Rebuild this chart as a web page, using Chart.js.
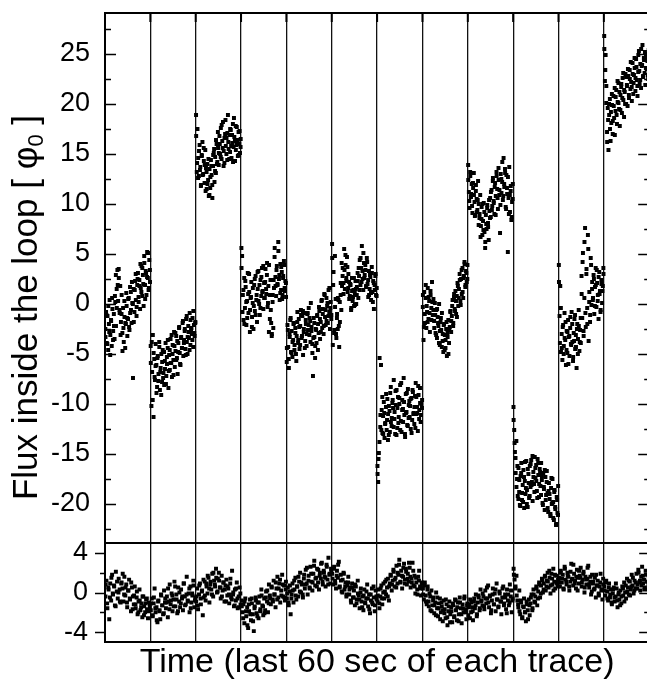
<!DOCTYPE html>
<html>
<head>
<meta charset="utf-8">
<script src="https://cdn.jsdelivr.net/npm/chart.js@4"></script>
<style>
  html, body { margin: 0; padding: 0; background: #fff; overflow: hidden; }
  #wrap { width: 652px; height: 681px; }
</style>
</head>
<body>
<div id="wrap"><canvas id="fluxChart" width="652" height="681"></canvas></div>
<script>
// 12 traces, last 60 s of each one, flux in units of phi_0
var traceCount = 12;

var fluxTicks = [-20, -15, -10, -5, 0, 5, 10, 15, 20, 25];
var fluxMinorTicks = [-22.5, -17.5, -12.5, -7.5, -2.5, 2.5, 7.5, 12.5, 17.5, 22.5, 27.5];
var residTicks = [-4, 0, 4];
var residMinorTicks = [-2, 2];

// upper panel: flux inside the loop, one array per trace
var fluxTraces = [
  [-2.5, -0.8, -3.9, -1.2, -4.6, -2.0, 0.4, -3.1, -1.6, -4.2, -0.5, -2.7, -1.0, -3.5, 0.2, -2.2,
   1.5, 3.4, 0.3, 2.6, -0.6, 1.8, -1.8, 0.9, -2.9, -0.4, -3.8, -1.3, -4.4, -2.0, -0.2, -3.2,
   -1.5, 0.6, -2.6, -0.9, 1.2, -1.9, 0.1, -7.4, 1.5, -0.8, 2.3, 0.4, -1.2, 1.9, 3.1, 0.2,
   2.4, -0.5, 1.6, 3.8, 0.8, 2.9, -0.2, 4.1, 1.9, 3.3, 0.9, 5.2, 2.6, 1.4, 4.4, 2.2],
  [-4.2, -10.2, -6.8, -3.1, -11.3, -5.5, -7.6, -4.0, -6.1, -8.3, -5.2, -7.0, -3.8, -8.6, -6.4, -5.0,
   -7.8, -4.6, -6.9, -8.1, -5.7, -3.9, -7.2, -6.0, -4.4, -8.4, -5.1, -6.6, -3.5, -5.9, -7.3, -4.1,
   -5.6, -2.8, -6.3, -4.7, -3.2, -5.4, -7.0, -3.9, -2.4, -4.9, -6.1, -3.3, -4.4, -1.9, -5.2, -3.6,
   -2.7, -4.5, -1.5, -3.8, -5.0, -2.2, -3.4, -0.9, -4.1, -2.6, -3.0, -1.4, -4.3, -2.1, -3.2, -1.8],
  [18.9, 13.2, 17.5, 14.6, 12.8, 15.9, 13.7, 11.9, 14.9, 16.2, 13.0, 14.3, 12.1, 15.4, 13.6, 11.5,
   14.0, 12.4, 10.8, 13.5, 11.6, 14.4, 12.9, 10.6, 13.8, 15.1, 12.2, 14.7, 13.1, 16.0, 14.2, 15.6,
   13.9, 16.8, 15.0, 17.6, 14.5, 16.3, 18.2, 15.3, 14.1, 17.0, 15.8, 16.6, 14.4, 18.9, 15.5, 16.9,
   15.2, 17.4, 14.6, 16.1, 18.0, 15.7, 16.7, 14.3, 17.8, 15.9, 16.4, 14.8, 17.2, 16.0, 15.1, 16.5],
  [5.6, 4.8, 0.9, -1.6, 2.6, -0.4, 1.7, -2.1, 0.3, 3.1, -0.9, 1.2, -2.8, 0.6, 2.2, -1.3,
   0.1, -2.5, 1.9, -0.7, 2.8, 0.4, -1.8, 1.5, 3.3, 0.0, -1.1, 2.4, 0.8, 3.6, 1.3, -0.5,
   2.1, 0.6, 3.5, 1.0, 2.9, -0.3, 1.8, 3.9, 0.9, 2.4, -1.9, -3.0, 0.2, -2.4, 1.6, 5.6,
   2.7, 0.8, 3.8, 1.9, 6.2, 2.5, 0.4, 4.0, 1.4, 3.2, 0.9, 2.8, 4.3, 1.6, 2.3, 0.7],
  [-5.8, -2.1, -4.3, -6.4, -3.0, -1.6, -4.8, -2.7, -5.3, -3.6, -1.9, -4.1, -2.4, -5.0, -3.2, -0.8,
   -3.9, -1.5, -4.5, -2.2, -0.6, -3.4, -1.2, -5.1, -2.8, -0.9, -3.7, -2.0, -4.2, -1.0, -2.6, -0.4,
   -3.1, -1.7, 0.1, -2.3, -4.0, -7.2, -1.4, -3.3, -5.4, -2.5, -3.9, -1.1, -4.6, -2.9, -0.7, -3.5,
   -1.8, 0.3, -2.4, -0.5, -3.0, 1.0, -1.3, -2.1, 0.6, -0.2, -1.9, 1.4, -0.8, -2.5, 0.2, -1.1],
  [6.0, -4.1, 3.2, -2.6, 4.8, 0.5, -3.4, -1.0, -2.5, 0.4, -4.3, -1.8, 0.9, -0.6, 1.8, 3.6,
   2.1, 5.5, 1.5, 3.9, 2.6, 4.7, 1.2, 3.0, 2.2, 0.8, 1.9, -0.4, 2.6, 0.3, 1.4, -0.2,
   1.1, 2.3, 0.0, 1.7, 3.1, 0.6, 2.8, 4.4, 1.9, 3.6, 5.8, 2.5, 1.4, 4.1, 2.9, 3.4,
   1.8, 4.6, 2.0, 0.7, 3.3, 1.5, 2.7, 0.4, 3.7, 1.2, 2.3, -0.5, 1.9, 2.8, 0.9, 1.6],
  [-16.2, -17.8, -14.9, -5.4, -12.3, -6.1, -10.6, -12.9, -11.2, -9.8, -13.4, -11.9, -10.3, -12.6, -9.5, -11.0,
   -13.1, -10.7, -8.9, -11.8, -12.2, -9.9, -10.4, -7.6, -11.5, -13.0, -10.1, -8.6, -12.4, -9.3, -11.3, -10.0,
   -8.1, -11.7, -12.8, -9.6, -10.5, -7.4, -11.1, -13.3, -9.0, -10.8, -12.1, -8.5, -11.4, -9.7, -10.2, -12.5,
   -9.4, -11.6, -8.8, -10.9, -12.0, -9.2, -7.9, -11.0, -10.3, -12.7, -9.1, -10.6, -8.4, -11.8, -10.0, -9.6],
  [-0.3, -3.6, 1.2, -1.9, 0.6, -2.4, -0.8, 1.6, -1.5, 0.3, -2.8, 0.9, -0.4, 2.2, -1.1, 0.5,
   -1.7, 0.1, -2.9, -0.6, -3.4, -1.3, -2.2, 0.0, -4.1, -1.8, -2.6, -0.9, -3.7, -4.8, -2.0, -3.1,
   -4.4, -2.5, -5.2, -3.3, -1.6, -3.9, -2.3, -0.7, -2.8, -1.2, 0.4, -1.9, 0.7, -0.5, 1.3, -1.0,
   0.8, 2.1, -0.2, 1.5, 3.0, 0.3, 2.5, 1.0, 3.6, 0.6, 2.8, 4.0, 1.7, 3.3, 2.2, 3.9],
  [13.9, 11.2, 9.6, 12.8, 10.7, 12.0, 9.1, 11.6, 13.1, 10.2, 8.9, 11.9, 10.5, 9.4, 12.3, 10.0,
   8.6, 10.9, 7.8, 9.7, 6.9, 8.3, 10.1, 7.2, 5.6, 8.9, 7.5, 9.9, 8.1, 6.4, 9.3, 10.6,
   8.7, 11.4, 9.8, 12.6, 10.3, 9.0, 12.1, 10.8, 13.2, 11.5, 9.5, 12.4, 10.9, 7.1, 13.0, 11.1,
   12.2, 10.4, 14.6, 11.7, 13.5, 9.7, 12.9, 11.0, 5.2, 10.6, 13.7, 9.2, 11.3, 8.4, 10.2, 12.0],
  [-10.3, -12.6, -14.8, -16.9, -13.7, -17.5, -19.2, -16.4, -18.8, -20.1, -17.2, -15.9, -19.6, -18.1, -16.6, -20.4,
   -17.7, -19.0, -15.7, -18.6, -20.3, -17.0, -19.4, -16.2, -18.3, -15.6, -17.8, -19.7, -16.8, -18.0, -15.3, -17.4,
   -16.1, -18.7, -15.5, -17.1, -19.3, -16.5, -18.2, -15.9, -17.6, -19.9, -16.9, -18.5, -20.6, -17.3, -19.1, -16.7,
   -18.9, -20.8, -17.9, -19.5, -21.2, -18.4, -20.0, -17.5, -19.8, -21.6, -18.6, -20.5, -22.1, -19.3, -20.9, -18.2],
  [3.9, -1.2, 1.8, -4.8, -3.0, -5.6, -2.1, -4.2, -0.9, -3.6, -6.1, -2.7, -4.9, -1.6, -3.3, -5.2,
   -2.4, -4.0, -0.8, -3.8, -5.7, -2.9, -1.5, -4.5, -3.1, -6.4, -2.0, -3.5, -0.6, -4.7, -2.6, -3.9,
   2.8, -1.4, 5.1, -3.2, 0.6, 7.6, -2.3, 3.5, -0.4, 6.9, -3.7, 1.2, -1.8, 4.6, -0.1, 2.2,
   0.4, 2.9, -1.0, 1.7, 3.6, -0.3, 2.1, 0.9, -1.5, 3.2, 1.3, -0.6, 2.4, 0.1, 1.8, 3.0],
  [26.8, 22.3, 24.9, 21.8, 17.2, 19.6, 15.4, 18.9, 20.5, 16.3, 18.1, 19.9, 17.0, 20.8, 18.6, 16.9,
   19.3, 21.4, 18.0, 20.2, 22.1, 19.5, 17.8, 20.9, 21.7, 19.1, 22.6, 20.4, 18.7, 21.2, 23.0, 20.0,
   21.9, 19.8, 22.8, 20.6, 23.4, 21.5, 22.2, 20.3, 24.1, 21.0, 22.9, 23.6, 21.3, 24.5, 22.4, 20.8,
   23.2, 25.3, 22.0, 24.0, 21.6, 23.8, 25.9, 22.7, 24.6, 23.1, 21.9, 25.0, 23.5, 24.3, 22.5, 24.8]
];

// second read-off pass over the same traces (fills the dense clouds)
var fluxTracesB = [
  [-3.3, -1.1, -4.0, -0.2, -2.8, -5.1, -1.7, 0.6, -3.6, -2.2, 0.8, 2.9, -0.4, 1.9, 3.5, -0.9,
   -3.1, -1.0, -4.7, -2.4, 0.3, -1.9, 1.1, -1.4, 0.5, -2.3, 1.7, -0.6, 2.2, 0.0, -1.8, 1.4,
   3.0, -0.3, 2.5, 0.7, 1.8, 4.0, 1.2, 3.6, 2.0, 4.8, 0.5, 3.1, 2.7, 5.1, 1.6, 3.4],
  [-5.9, -3.8, -9.6, -4.9, -7.3, -6.2, -8.9, -5.4, -7.7, -4.3, -6.8, -9.1, -5.8, -7.4, -4.8, -6.5,
   -8.0, -5.3, -3.6, -6.7, -4.6, -5.9, -3.1, -5.0, -7.1, -4.2, -2.9, -5.6, -3.7, -4.8, -2.3, -6.0,
   -3.4, -4.4, -1.7, -3.9, -2.5, -5.1, -1.2, -3.3, -2.8, -4.6, -1.6, -2.4, -3.6, -0.7, -2.9, -1.9],
  [16.8, 14.1, 12.6, 15.3, 13.4, 11.8, 14.8, 12.9, 15.6, 13.9, 11.3, 13.2, 12.0, 14.5, 10.9, 12.7,
   13.8, 11.9, 14.9, 15.5, 13.3, 16.4, 14.0, 17.2, 15.1, 16.0, 14.7, 17.9, 15.6, 13.8, 16.6, 18.4,
   15.0, 17.1, 16.2, 14.5, 17.5, 15.8, 16.9, 14.2, 18.6, 16.3, 15.4, 17.7, 16.1, 14.9, 17.3, 15.7],
  [3.6, -0.8, 1.4, -2.0, 2.3, 0.2, -1.4, 1.0, 3.0, -0.6, 0.7, -2.3, 1.6, -0.2, 2.5, -1.1,
   0.9, 3.2, 0.3, 1.9, -0.4, 2.7, 1.2, 3.8, 0.6, 2.2, 1.5, 4.1, 0.1, -2.8, -1.5, -0.6,
   -3.2, 0.9, 2.4, 4.7, 1.8, 3.4, 2.0, 5.3, 2.9, 1.1, 3.7, 0.5, 2.6, 3.9, 1.3, 2.1],
  [-4.4, -2.6, -5.5, -3.3, -1.4, -4.9, -3.8, -2.0, -4.6, -2.9, -5.7, -1.8, -3.6, -2.3, -4.1, -1.1,
   -3.2, -0.7, -2.5, -4.4, -1.6, -3.0, -0.9, -2.1, -1.4, -3.8, -2.7, -4.9, -3.4, -1.9, -4.2, -2.6,
   -1.2, -2.0, -0.3, -1.5, -2.8, 0.4, -1.0, -2.2, 0.9, -0.6, -1.7, 0.1, -1.2, 1.6, -0.4, -1.5],
  [4.6, 1.9, -2.9, -0.3, -3.0, -1.4, 0.6, -2.2, 0.2, 2.1, 4.1, 2.8, 1.0, 3.4, 4.9, 2.3,
   3.7, 1.6, 0.5, 2.0, -0.6, 1.3, 0.7, 2.6, -0.1, 1.5, 0.9, 2.3, 3.6, 1.4, 4.6, 2.2,
   3.3, 5.1, 2.6, 3.9, 1.7, 4.2, 2.4, 0.9, 2.9, 1.1, 3.1, 0.2, 2.1, 1.4, 3.0, 0.8],
  [-17.0, -15.5, -13.8, -11.1, -12.6, -9.3, -13.0, -10.9, -12.0, -9.0, -11.6, -13.6, -10.2, -12.8, -8.3, -11.4,
   -9.6, -12.3, -10.8, -8.7, -13.1, -10.4, -11.9, -9.4, -12.6, -7.9, -10.6, -11.8, -9.8, -13.0, -10.9, -8.9,
   -12.2, -10.1, -11.3, -9.5, -12.9, -8.6, -11.0, -10.3, -12.4, -9.3, -10.9, -8.2, -11.5, -9.9, -11.1, -10.4],
  [0.9, -2.3, -1.0, 1.9, -0.2, -1.8, 0.7, -0.9, 1.3, -1.6, 0.2, -0.6, -2.4, -1.1, -3.1, -0.5,
   -1.9, -3.9, -2.7, -1.4, -4.3, -3.0, -2.1, -4.6, -3.6, -1.8, -2.9, -5.0, -2.6, -0.8, -1.7, -0.2,
   -2.2, 1.0, -0.7, 0.3, -1.3, 1.8, 0.6, 2.4, -0.1, 3.4, 1.2, 2.6, 4.2, 1.9, 3.1, 2.5],
  [12.4, 10.3, 13.2, 11.0, 9.8, 12.1, 10.9, 8.8, 11.3, 9.2, 10.4, 7.9, 9.0, 6.7, 8.5, 10.0,
   7.4, 9.2, 6.2, 8.0, 9.6, 7.7, 10.4, 8.6, 11.2, 9.4, 12.3, 10.1, 11.7, 8.9, 12.8, 10.6,
   13.6, 11.4, 9.9, 12.5, 14.2, 10.8, 12.0, 13.1, 9.5, 11.6, 12.7, 9.0, 10.9, 11.8, 8.7, 10.5],
  [-11.6, -13.9, -15.4, -18.3, -16.2, -19.5, -17.6, -20.2, -16.9, -18.9, -19.8, -17.3, -15.8, -18.4, -20.0, -16.5,
   -17.9, -19.2, -16.0, -18.1, -15.2, -17.3, -18.8, -16.4, -17.7, -19.4, -15.9, -18.0, -16.8, -19.1, -17.2, -20.1,
   -18.3, -16.6, -19.6, -17.8, -20.4, -18.7, -19.0, -21.0, -17.4, -19.9, -21.4, -18.8, -20.3, -22.0, -19.6, -21.1],
  [2.2, -3.9, -0.4, -4.4, -2.3, -5.0, -3.4, -1.8, -4.6, -2.8, -6.0, -3.2, -1.3, -4.1, -2.0, -5.3,
   -3.7, -1.1, -4.3, -2.5, -5.0, -2.2, -3.8, -1.4, 1.0, 4.2, -2.7, 6.2, -0.9, 3.0, -2.0, 5.5,
   0.2, -1.1, 3.9, 1.5, 0.6, 2.5, -0.2, 1.9, 3.4, 0.3, 2.7, 1.0, -0.8, 2.0, 1.3, 3.6],
  [25.5, 23.4, 20.1, 16.2, 18.4, 20.0, 17.5, 19.2, 21.0, 18.3, 19.8, 21.6, 20.7, 18.9, 22.3, 20.1,
   21.2, 19.4, 22.0, 20.6, 23.1, 21.4, 20.0, 22.7, 21.8, 23.5, 20.9, 22.5, 24.2, 21.7, 23.0, 22.1,
   24.6, 22.6, 23.7, 21.8, 24.9, 23.3, 22.4, 25.5, 23.9, 22.8, 24.4, 25.2, 23.6, 24.7, 22.9, 25.4]
];

// lower panel: residual, one array per trace
var residTraces = [
  [-0.4, 1.2, -1.6, 0.5, -2.7, 0.9, -0.8, 1.8, -0.2, 0.7, -1.3, 2.1, 0.1, -0.6, 1.4, 0.3,
   -1.0, 1.0, 0.4, -0.9, 1.6, -0.3, 0.8, -1.5, 0.2, 1.3, -0.7, -1.9, 0.5, -0.4, -1.2, 0.6,
   -1.6, -0.5, -2.2, -0.9, 0.3, -1.8, -1.1, -2.5, -0.4, -1.4, -2.0, -0.7, -1.7, -2.6, -1.0, -1.5],
  [-1.8, -0.6, -2.4, -1.1, 0.4, -2.0, -1.5, -3.0, -0.8, -1.9, -2.7, -0.3, -1.3, -2.2, 0.2, -1.0,
   -1.6, -0.4, -2.5, -0.9, 0.8, -1.2, -0.1, -1.9, -0.7, 1.1, -1.4, -0.2, -2.1, 0.5, -0.9, -1.5,
   0.3, -0.6, -1.8, 0.9, -0.4, -1.2, 1.6, -0.8, -0.1, -2.0, 0.6, -1.0, -0.3, 1.2, -1.5, -0.5],
  [-0.9, 0.4, -1.7, -0.2, 0.9, -1.2, 0.1, -2.3, -0.5, 1.1, -0.8, 0.6, -0.1, 1.5, -1.0, 0.8,
   0.3, 1.9, -0.4, 1.2, 0.6, 2.4, 0.0, 1.4, 2.0, 0.5, -0.6, 1.7, 0.2, 1.0, -0.9, 0.7,
   1.3, -0.3, 0.4, -1.1, 0.9, -0.5, 2.2, -0.2, -1.4, 0.3, -0.8, 1.0, -1.6, -0.4, 0.5, -1.2],
  [-0.8, -2.0, -1.2, -3.1, -0.6, -2.4, -1.5, -3.6, -1.9, -0.7, -2.8, -1.1, -2.2, -3.9, -1.4, -0.5,
   -2.1, -1.0, -2.6, -0.4, -1.7, 0.3, -1.3, -2.3, -0.6, -1.8, 0.1, -0.9, -2.0, 0.8, -0.3, -1.2,
   0.5, -0.7, 1.2, -0.2, -1.5, 0.4, 1.6, -0.5, 0.9, -1.0, 0.2, 1.8, -0.4, 0.7, -0.8, 1.1],
  [-0.6, 0.5, -1.3, 0.1, -2.2, -0.2, 0.9, -1.0, 0.3, 1.5, -0.7, 0.6, -0.4, 1.1, 2.0, 0.0,
   0.8, -0.5, 1.4, 0.4, 2.3, 0.9, -0.2, 1.7, 0.5, 2.6, 1.1, 0.2, 1.9, 3.2, 0.7, 1.5,
   2.4, 1.0, 0.3, 2.0, 1.4, 3.0, 0.8, 2.2, 1.6, 0.6, 2.8, 1.3, 3.5, 1.8, 0.9, 2.1],
  [1.9, 0.8, 2.6, 1.2, 0.4, 2.2, 1.5, 3.1, 0.6, 1.8, 0.1, 1.3, 2.0, 0.3, 1.0, -0.4,
   0.7, 1.6, -0.2, 0.5, -1.0, 0.9, -0.5, 0.2, -1.3, 0.6, -0.7, 1.2, -0.3, -1.6, 0.0, -0.9,
   -0.4, -1.8, 0.3, -1.1, -0.6, 0.8, -1.4, -0.2, -2.1, -0.8, 0.4, -1.2, -0.5, -1.9, 0.2, -0.7],
  [-0.9, 0.3, -1.6, -0.4, 0.7, -1.2, 0.0, -0.6, 1.1, -0.2, 0.5, 1.4, -0.8, 0.9, 1.7, 0.2,
   1.2, 2.1, 0.6, 1.5, 2.7, 0.9, 1.8, 3.3, 1.0, 2.2, 0.4, 1.6, 2.9, 1.3, 2.4, 0.8,
   1.9, 1.1, 2.5, 0.5, 1.4, 3.0, 0.7, 1.7, -0.1, 1.0, 0.3, 1.6, 2.2, 0.6, -0.3, 0.9],
  [0.4, -0.7, 1.0, -0.3, -1.2, 0.6, -0.9, -0.1, -1.8, 0.2, -1.3, -0.5, -2.1, -1.0, 0.0, -1.6,
   -2.4, -1.1, -0.6, -2.0, -1.4, -2.9, -0.8, -1.7, -2.6, -1.2, -3.3, -1.9, -0.9, -2.2, -1.5, -3.0,
   -1.3, -2.5, -0.7, -1.8, -2.8, -1.0, -2.2, -0.5, -1.6, -3.1, -1.2, -2.0, -0.4, -1.7, -2.7, -1.1],
  [-2.3, -1.2, -0.7, -2.0, -1.5, -2.8, -0.9, -1.6, -0.2, -2.4, -1.0, -0.5, -1.8, 0.3, -0.8, -1.3,
   -0.4, -1.7, 0.2, -1.1, -0.6, 0.7, -1.5, -0.3, -2.1, -0.8, 0.4, -1.2, -0.1, -1.9, 0.9, -0.7,
   -1.4, 0.1, -0.9, -2.2, -0.5, 0.6, -1.1, -0.2, -1.7, 0.3, -0.8, -1.3, 0.8, -0.4, -2.0, -0.6],
  [2.4, 1.3, 0.6, 1.7, -0.8, -1.5, 0.2, -2.2, -1.0, -2.6, -1.4, -0.6, -2.0, -2.9, -1.2, -1.8,
   -0.7, -2.3, -1.1, -0.2, -1.6, 0.3, -0.9, -0.4, 0.6, -1.3, 0.1, 1.0, -0.5, 0.7, 1.4, 0.0,
   0.9, 1.6, 0.2, 1.2, 2.0, 0.5, 1.5, -0.1, 1.9, 0.8, 2.4, 1.1, 0.4, 1.7, 0.9, 1.3],
  [1.5, 0.6, 2.2, 1.0, 1.8, 0.3, 2.6, 1.3, 0.8, 2.0, 1.6, 0.2, 1.1, 2.9, 1.4, 0.7,
   1.9, 1.2, 0.4, 2.3, 1.5, 0.9, 1.7, 2.5, 0.6, 1.3, 2.1, 0.0, 1.6, 0.8, 1.4, 2.7,
   0.5, 1.1, -0.2, 1.8, 0.9, 0.3, 1.5, -0.5, 0.7, 1.2, -0.1, 0.6, 1.9, 0.2, -0.7, 0.8],
  [0.6, -0.3, 1.2, 0.1, -0.8, 0.9, -0.5, 0.3, -1.2, -0.1, 0.5, -0.9, -0.4, 0.4, -1.5, -0.2,
   -0.7, 0.2, -1.1, 0.6, -0.3, 1.0, 0.0, -0.6, 1.4, 0.5, -0.2, 1.1, 0.3, 1.8, 0.7, -0.1,
   1.2, 0.4, 1.9, 0.8, 2.3, 1.0, 0.2, 1.6, 2.6, 0.9, 1.3, 0.5, 1.8, 1.1, 0.3, 1.5]
];

var residTracesB = [
  [0.8, -1.1, 0.3, -0.5, 1.5, -0.1, 0.6, -1.4, 1.1, 0.0, -0.9, 0.9, 1.9, -0.2, 0.5, -1.0,
   0.2, -0.6, 1.0, -1.7, -0.3, -1.2, 0.1, -2.0, -0.8, -1.5, -0.4, -2.3, -1.1, -0.6, -1.9, -1.2],
  [-1.1, -2.3, -0.5, -1.6, -2.8, -0.9, -1.8, -0.2, -1.3, -2.1, -0.6, -1.0, 0.4, -1.7, -0.8, -0.3,
   -1.4, 0.6, -0.7, -1.9, 0.0, -1.1, -0.4, 0.9, -1.3, -0.2, -0.9, 0.4, -1.6, -0.1, 0.7, -0.8],
  [-0.4, -1.3, 0.7, -0.6, 0.2, 1.3, -0.3, 0.9, 1.7, 0.4, 1.1, -0.2, 2.0, 0.8, 1.5, 0.1,
   1.2, 0.5, -0.4, 1.0, 0.3, -0.9, 0.6, -0.2, 1.4, -0.7, 0.0, -1.3, 0.4, -0.6, -1.5, -0.1],
  [-1.4, -2.6, -0.9, -1.9, -3.3, -1.2, -2.2, -0.6, -2.9, -1.6, -0.8, -2.4, -1.0, -1.9, -0.3, -1.4,
   -2.1, -0.5, 0.2, -1.1, -0.6, 0.6, -0.9, -0.2, 1.0, -0.7, 0.4, 1.3, -0.3, 0.8, -0.5, 0.3],
  [-0.1, -1.0, 0.7, -0.6, 0.2, 1.2, -0.3, 0.6, 1.6, 0.1, 1.0, -0.2, 1.8, 0.8, 2.5, 1.2,
   0.4, 1.9, 1.0, 2.7, 1.4, 0.6, 2.3, 1.7, 2.9, 1.1, 2.0, 1.5, 2.6, 0.8, 1.9, 2.4],
  [1.4, 2.4, 0.9, 1.7, 2.8, 0.5, 1.2, 0.0, 1.9, 0.6, -0.2, 1.0, 0.3, -0.8, 0.5, -0.5,
   0.8, -1.1, -0.1, -0.7, 0.4, -1.5, -0.3, -1.0, 0.1, -0.6, -1.7, -0.2, -1.0, 0.6, -1.3, -0.4],
  [-0.3, -1.1, 0.4, -0.6, 0.9, 0.1, 1.3, -0.4, 0.6, 1.8, 0.8, 2.3, 1.3, 0.5, 2.0, 2.8,
   1.1, 1.7, 2.5, 0.9, 2.1, 1.4, 3.0, 1.6, 1.0, 2.2, 0.6, 1.5, -0.2, 1.2, 0.4, 1.0],
  [-0.2, 0.7, -0.9, 0.3, -1.4, -0.4, -1.9, -0.8, -1.3, -2.3, -0.5, -1.6, -2.7, -1.0, -1.8, -2.1,
   -0.7, -2.5, -1.4, -3.0, -1.9, -1.1, -2.4, -0.8, -1.5, -2.9, -1.0, -2.2, -1.6, -0.6, -2.0, -1.3],
  [-1.5, -2.6, -1.0, -1.9, -0.6, -1.3, -2.2, -0.3, -1.6, -0.9, -0.1, -1.4, -0.6, 0.5, -1.0, -0.4,
   -1.8, -0.2, -1.2, 0.3, -0.7, -1.5, -0.1, -0.9, 0.4, -1.3, -0.5, -2.1, -0.2, -1.0, 0.2, -0.8],
  [1.8, 0.4, -0.3, -1.2, -1.9, -0.8, -2.5, -1.5, -2.0, -0.9, -2.7, -1.3, -0.5, -1.8, -0.2, -1.0,
   0.4, -0.6, 0.8, -0.1, 1.2, 0.3, 1.7, 0.6, 1.1, 2.2, 0.7, 1.4, 0.2, 1.8, 1.0, 0.6],
  [1.0, 2.0, 1.4, 0.4, 2.4, 1.1, 1.7, 0.6, 2.1, 1.3, 2.8, 0.9, 1.6, 0.2, 2.2, 1.5,
   1.0, 1.9, 0.5, 1.3, 2.5, 0.8, 1.6, 0.1, 1.1, 0.4, 1.8, 0.7, -0.3, 1.0, 0.3, 1.4],
  [0.2, 1.0, -0.6, 0.5, -0.2, -1.0, 0.3, -0.5, 0.9, -0.8, 0.0, -1.3, -0.4, 0.4, -0.9, 0.7,
   0.1, 1.2, -0.3, 0.6, 1.5, 0.2, 1.0, 0.4, 2.0, 1.2, 0.7, 1.7, 0.3, 2.2, 1.1, 0.8]
];

var fontFamily = "'Liberation Sans', Arial, sans-serif";
Chart.defaults.font.family = fontFamily;
Chart.defaults.color = "#000";

// spread the samples of each trace evenly over its slot on the time axis
function toPoints(traces) {
  var pts = [];
  traces.forEach(function (vals, k) {
    vals.forEach(function (v, i) {
      pts.push({ x: k + (i + 0.5) / vals.length, y: v });
    });
  });
  return pts;
}

function fixedTicks(values) {
  return function (scale) {
    scale.ticks = values.map(function (v) { return { value: v }; });
  };
}

function fixWidth(scale) {
  scale.width = 105;
  scale.paddingTop = 0;
  scale.paddingBottom = 0;
}

// frame, tick marks and the y title
var framePlugin = {
  id: "frame",
  afterDraw: function (chart) {
    var ctx = chart.ctx;
    var a = chart.chartArea;
    var top = chart.scales.flux;
    var bot = chart.scales.resid;
    var xs = chart.scales.x;

    ctx.save();
    ctx.strokeStyle = "#000";
    ctx.lineWidth = 2;
    ctx.strokeRect(a.left, a.top, a.right - a.left, a.bottom - a.top);
    ctx.beginPath();
    ctx.moveTo(a.left, top.bottom);
    ctx.lineTo(a.right, top.bottom);
    ctx.stroke();

    function marks(scale, vals, leftLen, rightLen) {
      ctx.beginPath();
      vals.forEach(function (v) {
        var y = Math.round(scale.getPixelForValue(v)) + 0.5;
        ctx.moveTo(a.left, y);
        ctx.lineTo(a.left + leftLen, y);
        ctx.moveTo(a.right, y);
        ctx.lineTo(a.right - rightLen, y);
      });
      ctx.stroke();
    }
    ctx.lineWidth = 1.6;
    marks(top, fluxTicks, 11, 11);
    marks(top, fluxMinorTicks, 6, 5);
    marks(bot, residTicks, -10, 10);
    marks(bot, residMinorTicks, -5, 5);

    ctx.beginPath();
    for (var k = 1; k < traceCount; k++) {
      var x = xs.getPixelForValue(k);
      ctx.moveTo(x, a.top);
      ctx.lineTo(x, a.top + 9);
    }
    ctx.lineWidth = 2;
    ctx.stroke();

    // y title with subscript
    var main = "Flux inside the loop [ \u03c6";
    var sub = "0";
    var tail = " ]";
    ctx.fillStyle = "#000";
    ctx.textBaseline = "alphabetic";
    ctx.textAlign = "left";
    ctx.font = "35px " + fontFamily;
    var w1 = ctx.measureText(main).width;
    var w3 = ctx.measureText(tail).width;
    ctx.font = "22px " + fontFamily;
    var w2 = ctx.measureText(sub).width;
    var total = w1 + w2 + w3;
    var cy = (a.top + a.bottom) / 2 - 20;
    ctx.translate(37, cy);
    ctx.rotate(-Math.PI / 2);
    ctx.font = "35px " + fontFamily;
    ctx.fillText(main, -total / 2, 0);
    ctx.font = "22px " + fontFamily;
    ctx.fillText(sub, -total / 2 + w1, 6);
    ctx.font = "35px " + fontFamily;
    ctx.fillText(tail, -total / 2 + w1 + w2, 0);
    ctx.restore();
  }
};

var pointStyle = {
  showLine: false,
  pointStyle: "rect",
  pointRadius: 2.8,
  pointHoverRadius: 2.8,
  pointBorderWidth: 0,
  pointBackgroundColor: "#000",
  backgroundColor: "#000",
  borderColor: "#000"
};

new Chart(document.getElementById("fluxChart").getContext("2d"), {
  type: "scatter",
  data: {
    datasets: [
      Object.assign({ label: "flux", data: toPoints(fluxTraces).concat(toPoints(fluxTracesB)), yAxisID: "flux" }, pointStyle),
      Object.assign({ label: "residual", data: toPoints(residTraces).concat(toPoints(residTracesB)), yAxisID: "resid" }, pointStyle)
    ]
  },
  options: {
    responsive: false,
    animation: false,
    layout: { padding: { top: 13, right: 2, left: 0, bottom: 0 } },
    plugins: { legend: { display: false }, tooltip: { enabled: false } },
    scales: {
      x: {
        type: "linear",
        min: 0,
        max: traceCount,
        ticks: { display: false, stepSize: 1 },
        grid: {
          drawTicks: false,
          lineWidth: 1.3,
          color: function (c) {
            return c.tick && c.tick.value > 0 && c.tick.value < traceCount ? "#111" : "rgba(0,0,0,0)";
          }
        },
        border: { display: false },
        title: {
          display: true,
          text: "Time (last 60 sec of each trace)",
          font: { size: 34, lineHeight: 1 },
          padding: { top: 4, bottom: 1 },
          color: "#000"
        }
      },
      resid: {
        type: "linear",
        position: "left",
        stack: "panels",
        stackWeight: 99,
        min: -5,
        max: 5,
        grid: { display: false, drawTicks: false },
        border: { display: false },
        ticks: { font: { size: 27 }, padding: 17, color: "#000", autoSkip: false },
        afterBuildTicks: fixedTicks(residTicks),
        afterFit: fixWidth
      },
      flux: {
        type: "linear",
        position: "left",
        stack: "panels",
        stackWeight: 530,
        min: -23.9,
        max: 29.1,
        grid: { display: false, drawTicks: false },
        border: { display: false },
        ticks: { font: { size: 27 }, padding: 15, color: "#000", autoSkip: false },
        afterBuildTicks: fixedTicks(fluxTicks),
        afterFit: fixWidth
      }
    }
  },
  plugins: [framePlugin]
});
</script>
</body>
</html>
